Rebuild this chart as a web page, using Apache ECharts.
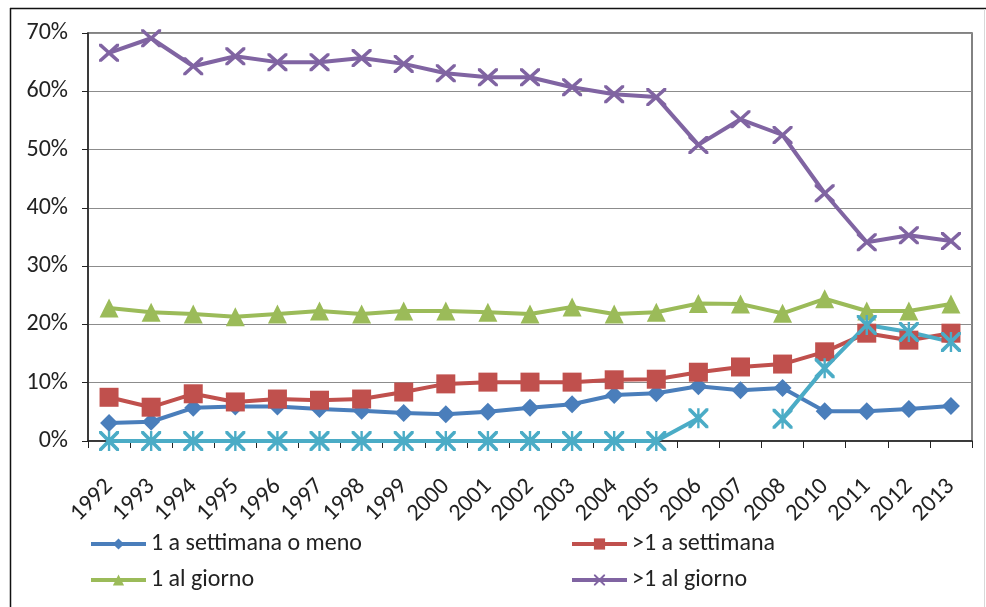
<!DOCTYPE html>
<html>
<head>
<meta charset="utf-8">
<script src="https://cdn.jsdelivr.net/npm/echarts@6/dist/echarts.min.js"></script>
<style>
  html, body { margin: 0; padding: 0; background: #fff; }
  #chart { width: 986px; height: 607px; }
</style>
</head>
<body>
<div id="chart"></div>
<script>
// Years surveyed (no 2009 wave)
const years = ['1992','1993','1994','1995','1996','1997','1998','1999','2000','2001','2002',
               '2003','2004','2005','2006','2007','2008','2010','2011','2012','2013'];

// Shares in percent
const weeklyOrLess = [3.1, 3.3, 5.7, 5.9, 5.9, 5.5, 5.2, 4.8, 4.6, 5.0, 5.7,
                      6.3, 7.9, 8.2, 9.4, 8.7, 9.1, 5.1, 5.1, 5.5, 6.0];
const moreThanWeekly = [7.5, 5.8, 8.1, 6.7, 7.2, 7.0, 7.2, 8.4, 9.8, 10.1, 10.1,
                        10.1, 10.5, 10.6, 11.8, 12.7, 13.2, 15.3, 18.5, 17.3, 18.5];
const oncePerDay = [22.8, 22.1, 21.8, 21.3, 21.8, 22.3, 21.8, 22.3, 22.3, 22.1, 21.8,
                    23.0, 21.8, 22.1, 23.6, 23.5, 21.9, 24.4, 22.3, 22.3, 23.5];
const moreThanDaily = [66.6, 69.1, 64.3, 66.0, 65.0, 65.0, 65.7, 64.7, 63.1, 62.4, 62.4,
                       60.7, 59.5, 59.0, 50.8, 55.2, 52.5, 42.5, 34.1, 35.3, 34.3];
const extraSeries = [0, 0, 0, 0, 0, 0, 0, 0, 0, 0, 0,
                     0, 0, 0, 3.9, null, 3.8, 12.5, 19.9, 18.7, 17.0];

const yTicks = { min: 0, max: 70, interval: 10 };

const seriesNames = ['1 a settimana o meno', '>1 a settimana', '1 al giorno', '>1 al giorno'];

// Stroke-like marker shapes built as thin filled polygons
const crossPath = 'path://M0,0 L2.6,0 L10,7.4 L17.4,0 L20,0 L20,2.6 L12.6,10 L20,17.4 L20,20 L17.4,20 L10,12.6 L2.6,20 L0,20 L0,17.4 L7.4,10 L0,2.6 Z';
const starPath = crossPath.replace(' Z', ' Z M8.8,0 L11.2,0 L11.2,20 L8.8,20 Z');

const FONT = 'Carlito, Lato, "Liberation Sans", sans-serif';

function lineSeries(name, data, color, symbol, size, extra) {
  return Object.assign({
    name: name,
    type: 'line',
    data: data,
    symbol: symbol,
    symbolSize: size,
    showSymbol: true,
    lineStyle: { color: color, width: 4 },
    itemStyle: { color: color },
    emphasis: { disabled: true },
    animation: false,
    z: 3
  }, extra || {});
}

const legendBase = {
  orient: 'vertical', top: 532, itemGap: 12, padding: 0,
  itemWidth: 55, itemHeight: 14,
  lineStyle: { width: 4 },
  textStyle: { fontFamily: FONT, fontSize: 24, color: '#222' }
};

const chart = echarts.init(document.getElementById('chart'), null, { renderer: 'canvas' });

chart.setOption({
  backgroundColor: '#ffffff',
  animation: false,
  grid: {
    left: 88, right: 14, top: 33, bottom: 166,
    show: true, borderColor: '#5a5a5a', borderWidth: 1.5, backgroundColor: 'transparent'
  },
  legend: [
    Object.assign({}, legendBase, { left: 89, data: [seriesNames[0], seriesNames[2]] }),
    Object.assign({}, legendBase, { left: 570, data: [seriesNames[1], seriesNames[3]] })
  ],
  xAxis: {
    type: 'category',
    data: years,
    boundaryGap: true,
    axisLine: { lineStyle: { color: '#222', width: 1.5 } },
    axisTick: { show: true, length: 7, lineStyle: { color: '#222' } },
    axisLabel: {
      rotate: 45, fontFamily: FONT, fontSize: 24, color: '#222', margin: 42, interval: 0,
      hideOverlap: false
    },
    splitLine: { show: false }
  },
  yAxis: {
    type: 'value',
    min: yTicks.min, max: yTicks.max, interval: yTicks.interval,
    axisLine: { show: true, lineStyle: { color: '#222', width: 1.5 } },
    axisTick: { show: true, length: 6, lineStyle: { color: '#222' } },
    axisLabel: {
      formatter: '{value}%', fontFamily: FONT, fontSize: 24, color: '#222', margin: 20
    },
    splitLine: { show: true, lineStyle: { color: '#8c8c8c', width: 1.2 } }
  },
  series: [
    lineSeries(seriesNames[0], weeklyOrLess, '#4a7ebb', 'diamond', 18),
    lineSeries(seriesNames[1], moreThanWeekly, '#c0504d', 'rect', 19),
    lineSeries(seriesNames[2], oncePerDay, '#9bbb59', 'triangle', 19),
    lineSeries(seriesNames[3], moreThanDaily, '#8064a2', crossPath, [20, 18]),
    lineSeries('extra', extraSeries, '#4bacc6', starPath, [20, 20], { connectNulls: false })
  ],
  graphic: [
    { type: 'line', shape: { x1: 10, y1: 8.5, x2: 986, y2: 8.5 }, style: { stroke: '#111', lineWidth: 1.5 }, silent: true },
    { type: 'line', shape: { x1: 10.5, y1: 8, x2: 10.5, y2: 607 }, style: { stroke: '#111', lineWidth: 1.5 }, silent: true },
    { type: 'line', shape: { x1: 984.5, y1: 9, x2: 984.5, y2: 607 }, style: { stroke: '#d8d8d8', lineWidth: 1 }, silent: true }
  ]
});
</script>
</body>
</html>
